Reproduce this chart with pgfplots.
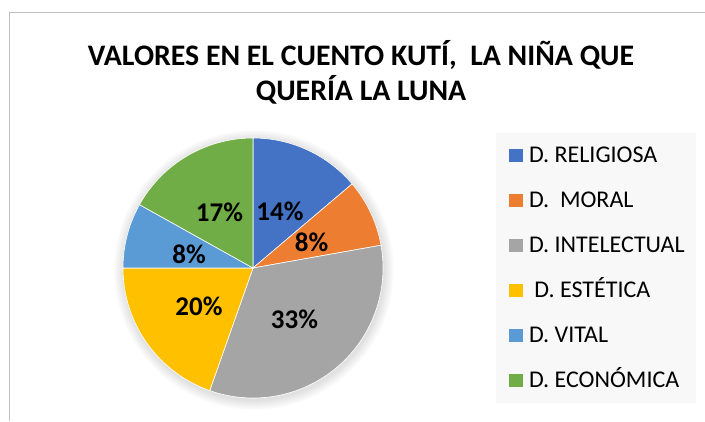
\documentclass[border=0pt]{standalone}
\usepackage{pgfplots}
\usepackage{pgfplotstable}
\pgfplotsset{compat=1.18}
\usepackage{fontspec}
\setmainfont{Carlito}
\definecolor{cREL}{HTML}{4472C4}
\definecolor{cMOR}{HTML}{ED7D31}
\definecolor{cINT}{HTML}{A5A5A5}
\definecolor{cEST}{HTML}{FFC000}
\definecolor{cVIT}{HTML}{5B9BD5}
\definecolor{cECO}{HTML}{70AD47}
\definecolor{legbg}{HTML}{F8F8F8}
\definecolor{framec}{HTML}{BFBFBF}
\pgfplotstableread{
label value
REL 13.8
MOR 8.4
INT 33.2
EST 19.6
VIT 8.1
ECO 16.9
}\piedata
\pgfplotstablegetelem{0}{value}\of\piedata \pgfmathsetmacro\bA{90-3.6*\pgfplotsretval}
\pgfplotstablegetelem{1}{value}\of\piedata \pgfmathsetmacro\bB{\bA-3.6*\pgfplotsretval}
\pgfplotstablegetelem{2}{value}\of\piedata \pgfmathsetmacro\bC{\bB-3.6*\pgfplotsretval}
\pgfplotstablegetelem{3}{value}\of\piedata \pgfmathsetmacro\bD{\bC-3.6*\pgfplotsretval}
\pgfplotstablegetelem{4}{value}\of\piedata \pgfmathsetmacro\bE{\bD-3.6*\pgfplotsretval}
\pgfplotstablegetelem{5}{value}\of\piedata \pgfmathsetmacro\bF{\bE-3.6*\pgfplotsretval}
\begin{document}%
\begin{tikzpicture}
\begin{axis}[
  width=705pt, height=421pt, scale only axis,
  xmin=0, xmax=705, ymin=0, ymax=421,
  enlargelimits=false,
  hide axis,
  legend cell align=left,
  legend image code/.code={\path[#1,draw=none,fill] (0pt,-6.7pt) rectangle (13.4pt,6.7pt);\path (19.5pt,0pt);},
  legend style={at={(axis cs:509,288)}, anchor=north west, inner sep=0pt,
    draw=none, fill=none, font=\fontsize{24}{24}\selectfont, row sep=0pt,
    nodes={inner sep=0pt, text height=29.6pt, text depth=15.4pt}},
]
\coordinate (SW) at (axis cs:0,0);
\coordinate (NE) at (axis cs:705,421);
% frame
\draw[framec, line width=1pt] (axis cs:705,408) -- (axis cs:9,408) -- (axis cs:9,0);
% legend background
\fill[legbg] (axis cs:496,288) rectangle (axis cs:696,18);
% soft shadow
\pgfplotsinvokeforeach{1,...,10}{\fill[black, opacity=0.012] (axis cs:254,151) circle[radius=130+#1];}
% slices
\addplot[fill=cREL, draw=white, line width=0.6pt, domain=\bA:90, samples=60, variable=\t]
  ({253+130*cos(\t)}, {153+130*sin(\t)}) -- (axis cs:253,153) -- cycle;
\addlegendentry{D. RELIGIOSA}
\addplot[fill=cMOR, draw=white, line width=0.6pt, domain=\bB:\bA, samples=40, variable=\t]
  ({253+130*cos(\t)}, {153+130*sin(\t)}) -- (axis cs:253,153) -- cycle;
\addlegendentry{D.\ \ MORAL}
\addplot[fill=cINT, draw=white, line width=0.6pt, domain=\bC:\bB, samples=120, variable=\t]
  ({253+130*cos(\t)}, {153+130*sin(\t)}) -- (axis cs:253,153) -- cycle;
\addlegendentry{D. INTELECTUAL}
\addplot[fill=cEST, draw=white, line width=0.6pt, domain=\bD:\bC, samples=80, variable=\t]
  ({253+130*cos(\t)}, {153+130*sin(\t)}) -- (axis cs:253,153) -- cycle;
\addlegendentry{\ D. ESTÉTICA}
\addplot[fill=cVIT, draw=white, line width=0.6pt, domain=\bE:\bD, samples=40, variable=\t]
  ({253+130*cos(\t)}, {153+130*sin(\t)}) -- (axis cs:253,153) -- cycle;
\addlegendentry{D. VITAL}
\addplot[fill=cECO, draw=white, line width=0.6pt, domain=\bF:\bE, samples=60, variable=\t]
  ({253+130*cos(\t)}, {153+130*sin(\t)}) -- (axis cs:253,153) -- cycle;
\addlegendentry{D. ECONÓMICA}
% data labels
\begin{scope}[every node/.style={font=\bfseries\fontsize{27}{27}\selectfont, inner sep=0pt}]
\node at (axis cs:280,210) {14\%};
\node at (axis cs:311.5,179) {8\%};
\node at (axis cs:294.5,101.5) {33\%};
\node at (axis cs:199,114.5) {20\%};
\node at (axis cs:189,166.5) {8\%};
\node at (axis cs:219.5,209) {17\%};
\end{scope}
% title
\node[font=\bfseries\fontsize{29.8}{35}\selectfont, align=center, inner sep=0pt] at (axis cs:361,348.5)
  {VALORES EN EL CUENTO KUTÍ,\ \ LA NIÑA QUE\\QUERÍA LA LUNA};
\end{axis}
\pgfresetboundingbox
\path (SW) rectangle (NE);
\end{tikzpicture}%
\end{document}
